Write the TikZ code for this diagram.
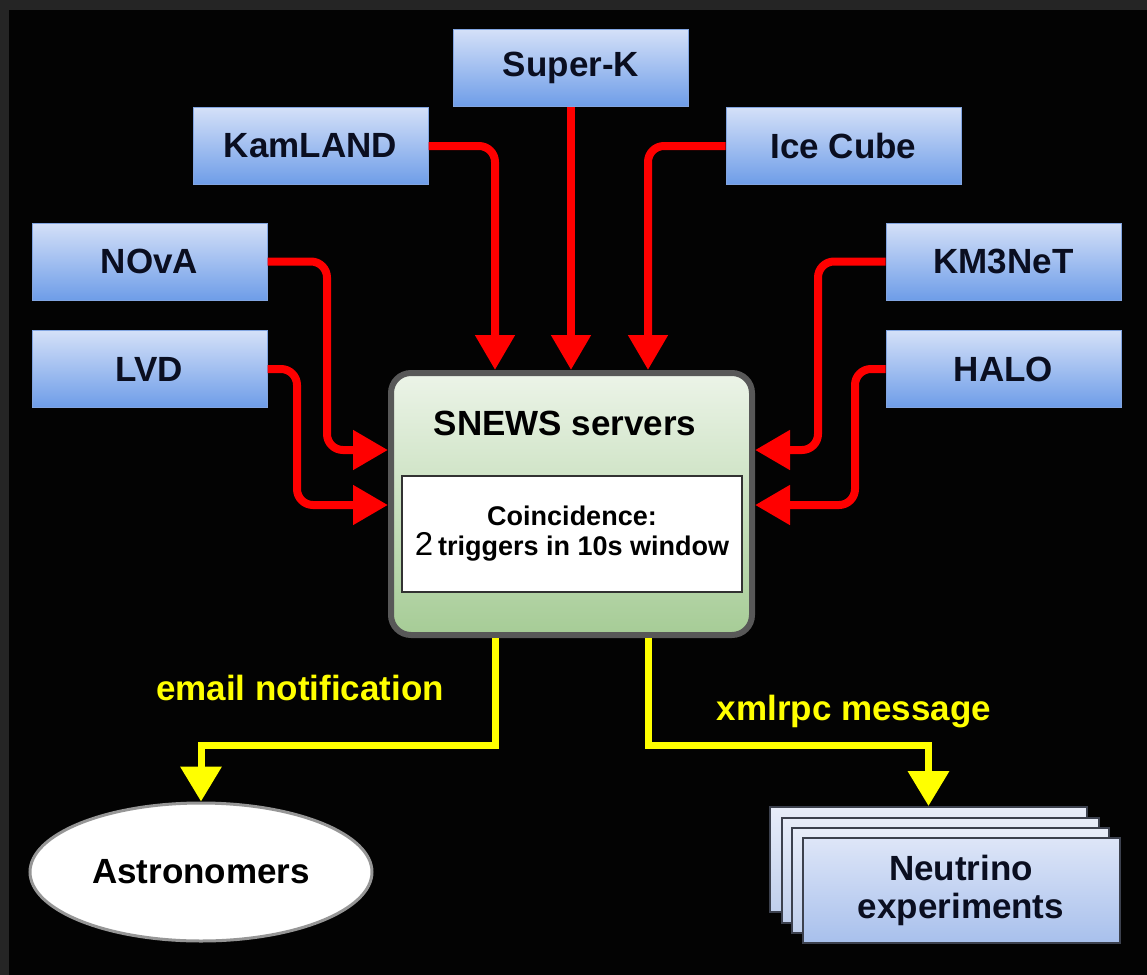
\documentclass[tikz,border=0pt]{standalone}
\usepackage{fontspec}
\setmainfont{Liberation Sans}
\usetikzlibrary{arrows.meta,shapes.geometric}
\definecolor{framegray}{RGB}{37,37,37}
\definecolor{bgblack}{RGB}{3,3,3}
\definecolor{boxtop}{RGB}{212,224,248}
\definecolor{boxbot}{RGB}{110,157,232}
\definecolor{boxedge}{RGB}{130,165,225}
\definecolor{navytext}{RGB}{10,14,32}
\definecolor{arrred}{RGB}{255,0,0}
\definecolor{arryel}{RGB}{255,255,0}
\definecolor{snewstop}{RGB}{236,244,232}
\definecolor{snewsbot}{RGB}{166,204,150}
\definecolor{snewsedge}{RGB}{88,88,88}
\definecolor{inneredge}{RGB}{50,50,50}
\definecolor{stackedge}{RGB}{60,65,78}
\definecolor{stacktop}{RGB}{232,237,249}
\definecolor{stackbot}{RGB}{192,207,236}
\definecolor{fronttop}{RGB}{222,230,248}
\definecolor{frontbot}{RGB}{168,192,236}
\definecolor{ellipseedge}{RGB}{150,150,150}
\newcommand{\dgBig}{\bfseries\fontsize{17.5}{19}\selectfont}
\newcommand{\dgMid}{\bfseries\fontsize{13.5}{16}\selectfont}
\tikzset{
  detbox/.style={rectangle, minimum width=117.5pt, minimum height=38.5pt, inner sep=0pt,
    top color=boxtop, bottom color=boxbot, draw=boxedge, line width=0.5pt,
    text=navytext, font=\dgBig},
  snewsbox/.style={rectangle, rounded corners=10pt, minimum width=180.5pt, minimum height=131pt,
    inner sep=0pt, top color=snewstop, bottom color=snewsbot, draw=snewsedge, line width=3pt},
  coincbox/.style={rectangle, minimum width=170pt, minimum height=58pt, inner sep=0pt,
    fill=white, draw=inneredge, line width=1pt, align=center, text=black, font=\dgMid},
  astrobox/.style={ellipse, minimum width=171pt, minimum height=69pt, inner sep=0pt,
    fill=white, draw=ellipseedge, line width=1.5pt, text=black, font=\dgBig},
  stackbox/.style={rectangle, minimum width=158.5pt, minimum height=52.5pt, inner sep=0pt,
    top color=stacktop, bottom color=stackbot, draw=stackedge, line width=1pt},
  frontbox/.style={stackbox, top color=fronttop, bottom color=frontbot, align=center,
    text=navytext, font=\dgBig},
  lbl/.style={text=arryel, font=\dgBig, inner sep=0pt, anchor=base},
  redarr/.style={draw=arrred, line width=4pt, rounded corners=8pt,
    -{Triangle[length=17.5pt,width=19pt]}},
  yelarr/.style={draw=arryel, line width=3.5pt,
    -{Triangle[length=17.5pt,width=20pt]}}
}
\begin{document}
\begin{tikzpicture}[x=0.5pt,y=-0.5pt]
\fill[framegray] (0,0) rectangle (1147,975);
\fill[bgblack] (9,10) rectangle (1147,975);
\useasboundingbox (0,0) rectangle (1147,975);

% detectors
\node[detbox] (superk)  at (571,68)    {Super-K};
\node[detbox] (kamland) at (310.5,146) {KamLAND};
\node[detbox] (icecube) at (843.5,146) {Ice Cube};
\node[detbox] (nova)    at (149.5,261.5) {NOvA};
\node[detbox] (lvd)     at (149.5,369) {LVD};
\node[detbox] (km3net)  at (1003.5,261.5) {KM3NeT};
\node[detbox] (halo)    at (1003.5,369) {HALO};

% SNEWS server box
\node[snewsbox] (snews) at (571.5,504) {};
\node[anchor=base, font=\dgBig, text=black, inner sep=0pt] (snewstitle) at (565,435) {SNEWS servers};
\node[coincbox] (coinc) at (572,534)
  {Coincidence:\\[-1pt]{\mdseries\fontsize{16.5}{16}\selectfont 2}\hspace{2.5pt}triggers in 10s window};

% receivers
\node[astrobox] (astro) at (201,872) {Astronomers};
\node[stackbox] (neut4) at (928.5,859.5) {};
\node[stackbox] (neut3) at (940,870) {};
\node[stackbox] (neut2) at (950.5,880) {};
\node[frontbox] (neut)  at (961,890) {Neutrino\\experiments};

% helper levels
\coordinate (xK) at (495,0);
\coordinate (xI) at (648,0);
\coordinate (yA) at (0,450);
\coordinate (yB) at (0,505);
\coordinate (yC) at (0,745);

% red input arrows
\draw[redarr] (superk.south) -- (snews.north -| superk.south);
\draw[redarr] (kamland.east) -| (snews.north -| xK);
\draw[redarr] (icecube.west) -| (snews.north -| xI);
\draw[redarr] (nova.east) -| (327,450) -- (snews.west |- yA);
\draw[redarr] (lvd.east) -| (297,505) -- (snews.west |- yB);
\draw[redarr] (km3net.west) -| (818,450) -- (snews.east |- yA);
\draw[redarr] (halo.west) -| (855,505) -- (snews.east |- yB);

% yellow output arrows
\draw[yelarr] (snews.south -| xK) |- (astro.north |- yC) -- (astro.north);
\draw[yelarr] (snews.south -| xI) |- (neut4.north |- yC) -- (neut4.north);

\node[lbl] (email) at (300,700) {email notification};
\node[lbl] (xmlrpc) at (854,720) {xmlrpc message};
\end{tikzpicture}
\end{document}
